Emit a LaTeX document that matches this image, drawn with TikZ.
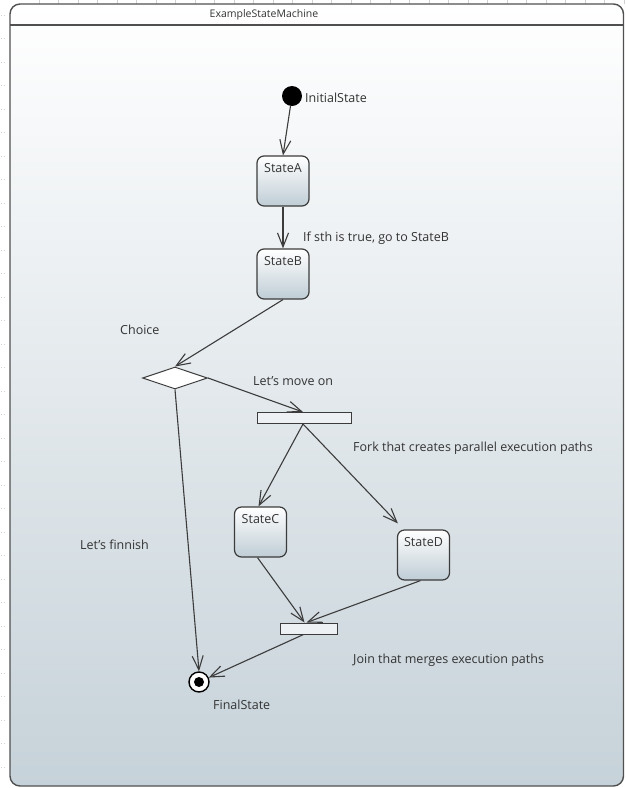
\documentclass[tikz,border=0pt]{standalone}
\usepackage{fontspec}
\setmainfont{Open Sans}
\usetikzlibrary{arrows.meta,shapes.geometric}

\definecolor{inkgrey}{HTML}{333333}
\definecolor{framebottom}{HTML}{C6D2D9}
\definecolor{boxbottom}{HTML}{BFCDD5}
\definecolor{edgegrey}{HTML}{3C3C3C}
\definecolor{rulergrey}{HTML}{D2D2D2}
\definecolor{barfill}{HTML}{EEF1F3}

\begin{document}
\begin{tikzpicture}[x=1pt,y=-1pt,
  every node/.style={font=\fontsize{12.5}{14}\selectfont, text=inkgrey},
  statebox/.style={draw=edgegrey, line width=1.2pt, rounded corners=7pt,
    minimum width=52pt, minimum height=50pt, inner sep=0pt,
    top color=white, bottom color=boxbottom},
  bar/.style={draw=edgegrey, line width=1pt, fill=barfill,
    inner sep=0pt, minimum height=11pt},
  caption/.style={anchor=west, inner sep=0pt},
  trans/.style={draw=edgegrey, line width=1.1pt,
    -{Straight Barb[length=14pt,width=11pt]}},
]
\useasboundingbox (0,0) rectangle (625,788);

% ruler marks along the top and left margins
\foreach \i in {0,...,30} \draw[rulergrey, line width=0.6pt] (39+19.5*\i,0) -- (39+19.5*\i,4);
\foreach \i in {0,...,32} \draw[rulergrey, line width=0.8pt, dotted] (1,15+23.5*\i) -- (6,15+23.5*\i);

% state machine frame with title band
\draw[draw=edgegrey!90, line width=1.4pt, rounded corners=10pt,
      top color=white, bottom color=framebottom] (10,4) rectangle (623.5,786);
\draw[edgegrey!90, line width=1.2pt] (10,25) -- (623.5,25);
\node[font=\fontsize{10.5}{12}\selectfont] (title) at (264,15) {ExampleStateMachine};

% pseudo states
\node[circle, fill=black, minimum size=20pt, inner sep=0pt] (init) at (292,96) {};
\node[caption] (initlbl) at (305,98) {InitialState};

\node[circle, draw=black, line width=1.4pt, fill=white, minimum size=20pt, inner sep=0pt] (final) at (199,682) {};
\node[circle, fill=black, minimum size=10pt, inner sep=0pt] (finaldot) at (199,682) {};
\node[caption] (finallbl) at (213,705) {FinalState};

\node[diamond, draw=edgegrey, line width=1pt, fill=white, minimum width=65pt,
      minimum height=22pt, inner sep=0pt] (choice) at (175,378) {};
\node[caption] (choicelbl) at (120,330) {Choice};

% states
\node[statebox, label={[name=lblA, label distance=-21pt]north:StateA}] (stateA) at (283,181) {};
\node[statebox, label={[name=lblB, label distance=-21pt]north:StateB}] (stateB) at (283,274) {};
\node[statebox, label={[name=lblC, label distance=-21pt]north:StateC}] (stateC) at (260.5,532) {};
\node[statebox, label={[name=lblD, label distance=-21pt]north:StateD}] (stateD) at (423.5,555) {};

% fork and join bars
\node[bar, minimum width=94pt] (fork) at (304,418) {};
\node[bar, minimum width=57pt] (join) at (308.5,628.5) {};

% transitions
\draw[trans] (init) -- (stateA.north);
\draw[trans] (stateA.south) -- (stateB.north);
\node[caption] (guardlbl) at (303,238) {If sth is true, go to StateB};
\draw[trans] (stateB.south) -- (choice.north);
\draw[trans] (choice.east) -- ([xshift=-1pt]fork.north);
\node[caption] (movelbl) at (253,381) {Let's move on};
\draw[trans] (choice.south) -- (final.north);
\node[caption] (finishlbl) at (80,545) {Let's finnish};
\draw[trans] ([xshift=-1pt]fork.south) -- ([xshift=-2pt]stateC.north);
\draw[trans] ([xshift=-1pt]fork.south) -- ([xshift=1pt,yshift=6pt]stateD.north west);
\node[caption] (forklbl) at (353,448) {Fork that creates parallel execution paths};
\draw[trans] ([xshift=-3pt]stateC.south) -- ([xshift=-4pt]join.north);
\draw[trans] ([xshift=-3pt]stateD.south) -- ([xshift=-2pt]join.north);
\draw[trans] ([xshift=-5pt]join.south) -- (final);
\node[caption] (joinlbl) at (353,660) {Join that merges execution paths};
\end{tikzpicture}
\end{document}
